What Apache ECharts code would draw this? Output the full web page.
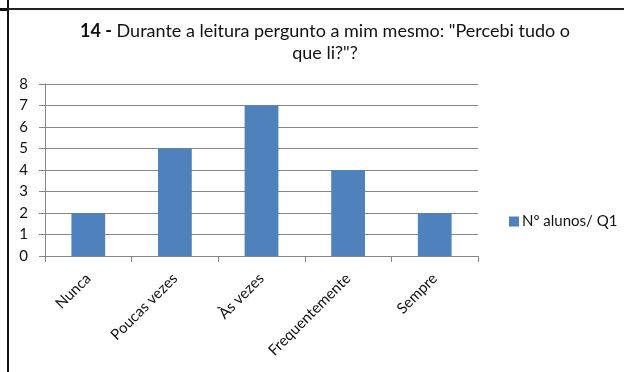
<!DOCTYPE html>
<html><head><meta charset="utf-8">
<script src="https://cdn.jsdelivr.net/npm/echarts@6/dist/echarts.min.js"></script>
<style>html,body{margin:0;padding:0;background:#fff}#c{width:624px;height:372px}</style>
</head><body><div id="c"></div>
<script>
const categories = ["Nunca", "Poucas vezes", "Às vezes", "Frequentemente", "Sempre"];
const values = [2, 5, 7, 4, 2];
const seriesName = "Nº alunos/ Q1";
const yTicks = [0, 1, 2, 3, 4, 5, 6, 7, 8];

const chart = echarts.init(document.getElementById('c'));
const font = 'Lato, "Open Sans", sans-serif';
chart.setOption({
  animation: false,
  title: {
    text: '{b|14 -} Durante a leitura pergunto a mim mesmo: "Percebi tudo o\nque li?"?',
    left: 320, top: 15, textAlign: 'center',
    textStyle: {
      fontFamily: font, fontSize: 18, fontWeight: 'normal', color: '#111', lineHeight: 22,
      rich: { b: { fontFamily: font, fontSize: 18, fontWeight: 'bold', color: '#111' } }
    }
  },
  legend: {
    data: [seriesName], left: 504, top: 209, itemWidth: 10, itemHeight: 10, itemGap: 4,
    icon: 'rect',
    textStyle: { fontFamily: font, fontSize: 15, color: '#111', padding: [0, 0, 0, -2] }
  },
  grid: { left: 45, right: 146, top: 84, bottom: 116, containLabel: false },
  xAxis: {
    type: 'category', data: categories,
    axisLine: { lineStyle: { color: '#868686', width: 1 } },
    axisTick: { show: true, alignWithLabel: false, length: 6, lineStyle: { color: '#868686' } },
    axisLabel: { rotate: 45, fontFamily: font, fontSize: 15, color: '#111', margin: 20, interval: 0 }
  },
  yAxis: {
    type: 'value', min: 0, max: 8, interval: 1,
    axisLine: { show: true, lineStyle: { color: '#868686' } },
    axisTick: { show: true, length: 6, lineStyle: { color: '#868686' } },
    axisLabel: { fontFamily: font, fontSize: 15, color: '#111', margin: 17,
      formatter: v => yTicks.includes(v) ? String(v) : '' },
    splitLine: { show: true, lineStyle: { color: '#868686', width: 1 } }
  },
  series: [{
    name: seriesName, type: 'bar', data: values, barWidth: '39%',
    itemStyle: { color: '#4F81BD' }
  }],
  graphic: [
    { type: 'rect', shape: { x: 7, y: 0, width: 2, height: 372 }, style: { fill: '#111' } },
    { type: 'rect', shape: { x: 7, y: 8, width: 617, height: 2 }, style: { fill: '#222' } },
    { type: 'rect', shape: { x: 0, y: 8, width: 7, height: 3 }, style: { fill: '#111' } }
  ]
});
</script></body></html>
